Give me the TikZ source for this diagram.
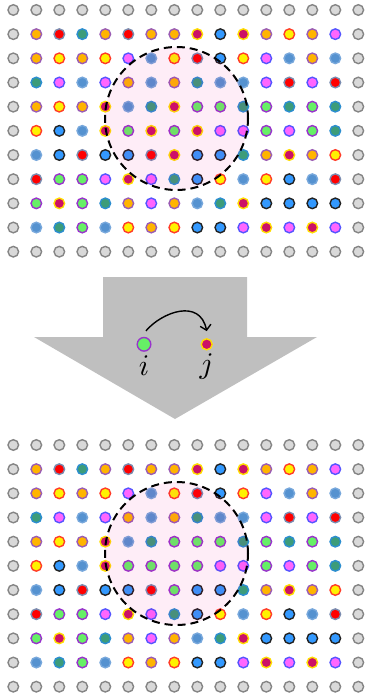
\documentclass[tikz,border=0pt]{standalone}
\usetikzlibrary{positioning,arrows.meta}
\pgfdeclarelayer{edgelayer}
\pgfdeclarelayer{nodelayer}
\pgfsetlayers{edgelayer,nodelayer,main}
\definecolor{grayfill}{HTML}{D9D9D9}
\definecolor{grayline}{HTML}{858585}
\definecolor{orangefill}{HTML}{FFB400}
\definecolor{purpleline}{HTML}{9A5CB4}
\definecolor{redline}{HTML}{7A8CB0}
\definecolor{tealfill}{HTML}{3C9C7A}
\definecolor{tealline}{HTML}{2C8ED0}
\definecolor{yellowline}{HTML}{FF3C28}
\definecolor{pinkfill}{HTML}{FF66FF}
\definecolor{pinkline}{HTML}{5555FF}
\definecolor{steelfill}{HTML}{5592D0}
\definecolor{steelline}{HTML}{78A8DC}
\definecolor{crimsonfill}{HTML}{CC1166}
\definecolor{crimsonline}{HTML}{FFDD00}
\definecolor{greenfill}{HTML}{66F066}
\definecolor{greenline}{HTML}{9933CC}
\definecolor{bluefill}{HTML}{3399FF}
\definecolor{blueline}{HTML}{222222}
\definecolor{arrowgray}{HTML}{BFBFBF}
\tikzstyle{none}=[inner sep=0pt]
\tikzstyle{dot}=[circle, inner sep=0pt, minimum size=10.6pt, line width=1.4pt]
\tikzstyle{dotG}=[dot, fill=grayfill, draw=grayline]
\tikzstyle{dotO}=[dot, fill=orangefill, draw=purpleline]
\tikzstyle{dotR}=[dot, fill=red, draw=redline]
\tikzstyle{dotT}=[dot, fill=tealfill, draw=tealline]
\tikzstyle{dotY}=[dot, fill=yellow, draw=yellowline]
\tikzstyle{dotM}=[dot, fill=pinkfill, draw=pinkline]
\tikzstyle{dotB}=[dot, fill=steelfill, draw=steelline]
\tikzstyle{dotC}=[dot, fill=crimsonfill, draw=crimsonline]
\tikzstyle{dotL}=[dot, fill=greenfill, draw=greenline]
\tikzstyle{dotK}=[dot, fill=bluefill, draw=blueline]
\tikzstyle{zone}=[draw=black, line width=2pt, dash pattern=on 8pt off 5pt, fill=magenta, fill opacity=0.07, draw opacity=1]
\tikzstyle{flow}=[draw=black, line width=1.4pt, -{Straight Barb[length=5pt,width=11pt]}]
\tikzstyle{label}=[inner sep=0pt, scale=3]

\begin{document}
\begin{tikzpicture}[x=1pt, y=-1pt]
	\useasboundingbox (0,0) rectangle (366,700);
	\begin{pgfonlayer}{nodelayer}
		% before
		\foreach \row [count=\r from 0] in {
			{G,G,G,G,G,G,G,G,G,G,G,G,G,G,G,G},
			{G,O,R,T,O,R,O,O,C,K,C,O,Y,O,M,G},
			{G,O,Y,O,Y,M,B,Y,R,K,Y,M,B,O,B,G},
			{G,T,M,B,M,O,B,O,T,B,B,M,R,M,R,G},
			{G,O,Y,O,C,B,T,C,L,L,T,L,T,L,T,G},
			{G,Y,K,B,C,L,C,L,C,M,M,L,M,L,T,G},
			{G,B,K,R,K,K,R,C,K,K,T,O,C,O,Y,G},
			{G,R,L,L,M,C,M,T,K,Y,B,Y,K,B,R,G},
			{G,L,C,L,T,O,M,O,B,T,C,K,K,K,K,G},
			{G,B,T,L,B,Y,O,Y,K,K,M,C,M,C,M,G},
			{G,G,G,G,G,G,G,G,G,G,G,G,G,G,G,G}}
		{
			\foreach \s [count=\c from 0] in \row
				\node [style=dot\s] (u-\r-\c) at ({13.3+23*\c}, {10+24.17*\r}) {};
		}
		% after
		\foreach \row [count=\r from 0] in {
			{G,G,G,G,G,G,G,G,G,G,G,G,G,G,G,G},
			{G,O,R,T,O,R,O,O,C,K,C,O,Y,O,M,G},
			{G,O,Y,O,Y,M,B,Y,R,K,Y,M,B,O,B,G},
			{G,T,M,B,M,O,B,O,T,B,B,M,R,M,R,G},
			{G,O,Y,O,C,B,T,L,L,L,T,L,T,L,T,G},
			{G,Y,K,B,C,L,L,L,L,M,M,L,M,L,T,G},
			{G,B,K,R,K,K,R,L,K,K,T,O,C,O,Y,G},
			{G,R,L,L,M,C,M,T,K,Y,B,Y,K,B,R,G},
			{G,L,C,L,T,O,M,O,B,T,C,K,K,K,K,G},
			{G,B,T,L,B,Y,O,Y,K,K,M,C,M,C,M,G},
			{G,G,G,G,G,G,G,G,G,G,G,G,G,G,G,G}}
		{
			\foreach \s [count=\c from 0] in \row
				\node [style=dot\s] (w-\r-\c) at ({13.3+23*\c}, {445+24.17*\r}) {};
		}
		\node [style=dotL, minimum size=13.6pt] (i) at (144, 344.3) {};
		\node [style=dotC, minimum size=11pt] (j) at (206.7, 344.3) {};
		\node [style=label, below=3.5pt of i] (ilabel) {$i$};
		\node [style=label, below=2.7pt of j] (jlabel) {$j$};
	\end{pgfonlayer}
	\begin{pgfonlayer}{edgelayer}
		\fill [arrowgray] (103,277) -- (247,277) -- (247,337) -- (317,337) -- (175,419) -- (34,337) -- (103,337) -- cycle;
	\end{pgfonlayer}
	\draw [style=zone] (176.5,118.5) circle [radius=71.5pt];
	\draw [style=zone] (176.5,553.5) circle [radius=71.5pt];
	\draw [style=flow] ([xshift=2pt, yshift=6pt]i.north) .. controls (162,312) and (200,298) .. ([yshift=7pt]j.north);
\end{tikzpicture}
\end{document}
